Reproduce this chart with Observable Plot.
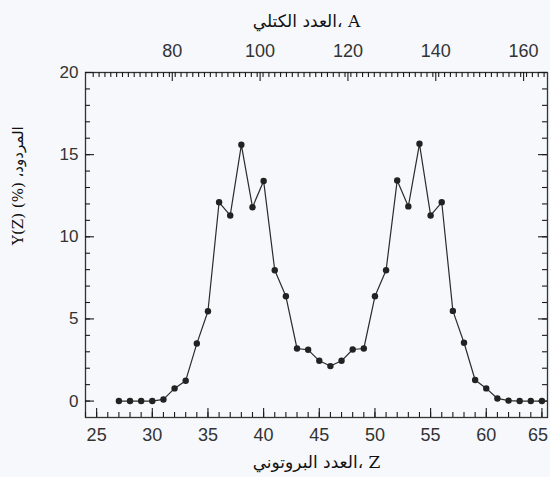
<!DOCTYPE html>
<html>
<head>
<meta charset="utf-8">
<script src="https://cdn.jsdelivr.net/npm/d3@7"></script>
<script src="https://cdn.jsdelivr.net/npm/@observablehq/plot@0.6"></script>
<style>
  html, body { margin: 0; padding: 0; background: #f6f8fb; }
</style>
</head>
<body>
<div id="chart"></div>
<script>
// ---- data ----
const protonNumber = [27, 28, 29, 30, 31, 32, 33, 34, 35, 36, 37, 38, 39, 40, 41, 42, 43, 44, 45, 46,
                      47, 48, 49, 50, 51, 52, 53, 54, 55, 56, 57, 58, 59, 60, 61, 62, 63, 64, 65];
const yieldPct = [0, 0, 0, 0, 0.1, 0.77, 1.24, 3.5, 5.47, 12.1, 11.3, 15.6, 11.8, 13.4, 7.96, 6.38, 3.2, 3.12, 2.45, 2.13,
                  2.45, 3.14, 3.2, 6.38, 7.96, 13.43, 11.85, 15.66, 11.3, 12.1, 5.49, 3.55, 1.28, 0.77, 0.16, 0.03, 0, 0, 0];

const zTickLabels = [25, 30, 35, 40, 45, 50, 55, 60, 65];
const yTickLabels = [0, 5, 10, 15, 20];
const aTickLabels = [80, 100, 120, 140, 160];

// top (mass number) axis relation to Z, as drawn in the figure
const A_PER_Z = 2.535;
const A_OFFSET = -0.6;
const zOfA = a => (a - A_OFFSET) / A_PER_Z;

const titleTop = "العدد الكتلي، A";
const titleBottom = "العدد البروتوني، Z";
const titleLeft = "Y(Z) (%) \u2067المردود،\u2069";

// ---- layout ----
const W = 550, H = 477;
const mL = 85, mR = 3, mT = 72, mB = 60;
const X_DOMAIN = [24, 65.5];
const Y_DOMAIN = [-1, 20];
const pxPerX = (W - mL - mR) / (X_DOMAIN[1] - X_DOMAIN[0]);
const pxPerY = (H - mT - mB) / (Y_DOMAIN[1] - Y_DOMAIN[0]);

const data = protonNumber.map((z, i) => ({z, y: yieldPct[i]}));

const zMinor = d3.range(24, 66, 1);
const yMinor = d3.range(0, 21, 1);
const aMinor = d3.range(62, 168, 4 / 3).map(zOfA).filter(z => z >= X_DOMAIN[0] && z <= X_DOMAIN[1]);
const aMajor = aTickLabels.map(zOfA);

const tickInk = "#1a1a1a";

// inward tick marks (length in pixels converted to data units)
const leftTicks = (ticks, len) => Plot.ruleY(ticks, {y: d => d, x1: X_DOMAIN[0], x2: X_DOMAIN[0] + len / pxPerX, stroke: tickInk, strokeWidth: 1.1});
const rightTicks = (ticks, len) => Plot.ruleY(ticks, {y: d => d, x1: X_DOMAIN[1], x2: X_DOMAIN[1] - len / pxPerX, stroke: tickInk, strokeWidth: 1.1});
const bottomTicks = (ticks, len) => Plot.ruleX(ticks, {x: d => d, y1: Y_DOMAIN[0], y2: Y_DOMAIN[0] + len / pxPerY, stroke: tickInk, strokeWidth: 1.1});
const topTicks = (ticks, len) => Plot.ruleX(ticks, {x: d => d, y1: Y_DOMAIN[1], y2: Y_DOMAIN[1] - len / pxPerY, stroke: tickInk, strokeWidth: 1.1});

const chart = Plot.plot({
  width: W,
  height: H,
  marginLeft: mL,
  marginRight: mR,
  marginTop: mT,
  marginBottom: mB,
  style: {fontFamily: "'Liberation Sans', Arial, sans-serif", fontSize: "18px", color: "#333", background: "#f6f8fb"},
  x: {domain: X_DOMAIN},
  y: {domain: Y_DOMAIN},
  marks: [
    Plot.frame({stroke: "#333", strokeWidth: 1.3}),
    leftTicks(yMinor, 5),
    leftTicks(yTickLabels, 9),
    rightTicks(yMinor, 5),
    rightTicks(yTickLabels, 9),
    bottomTicks(zMinor, 5),
    bottomTicks(zTickLabels, 9),
    topTicks(aMinor, 5),
    topTicks(aMajor, 9),
    // tick labels
    Plot.axisY(yTickLabels, {anchor: "left", tickSize: 0, tickPadding: 7, label: null, fill: "#333", fontSize: 17}),
    Plot.axisX(zTickLabels.slice(0, -1), {anchor: "bottom", tickSize: 0, tickPadding: 11, label: null, fill: "#333", fontSize: 18}),
    Plot.text(zTickLabels.slice(-1), {x: d => d, text: d => String(d), frameAnchor: "bottom", lineAnchor: "top", dy: 11, textAnchor: "end", dx: 6, fill: "#333", fontSize: 18}),
    Plot.text(aTickLabels, {x: a => zOfA(a), text: a => String(a), frameAnchor: "top", lineAnchor: "bottom", dy: -16, fill: "#333", fontSize: 18}),
    // titles
    Plot.text([titleTop], {text: d => d, frameAnchor: "top", dy: -51, dx: -10, lineAnchor: "middle", fill: "#111", fontSize: 17, fontFamily: "'DejaVu Serif', 'DejaVu Sans', serif"}),
    Plot.text([titleBottom], {text: d => d, frameAnchor: "bottom", dy: 45, lineAnchor: "middle", fill: "#111", fontSize: 17, fontFamily: "'DejaVu Serif', 'DejaVu Sans', serif"}),
    Plot.text([titleLeft], {text: d => d, frameAnchor: "left", dx: -67, rotate: -90, lineAnchor: "middle", fill: "#111", fontSize: 15, fontFamily: "'DejaVu Serif', 'DejaVu Sans', serif"}),
    // data
    Plot.line(data, {x: "z", y: "y", stroke: "#2b2b2b", strokeWidth: 1.2}),
    Plot.dot(data, {x: "z", y: "y", r: 3.2, fill: "#222", stroke: "none"})
  ]
});

document.getElementById("chart").append(chart);
</script>
</body>
</html>
